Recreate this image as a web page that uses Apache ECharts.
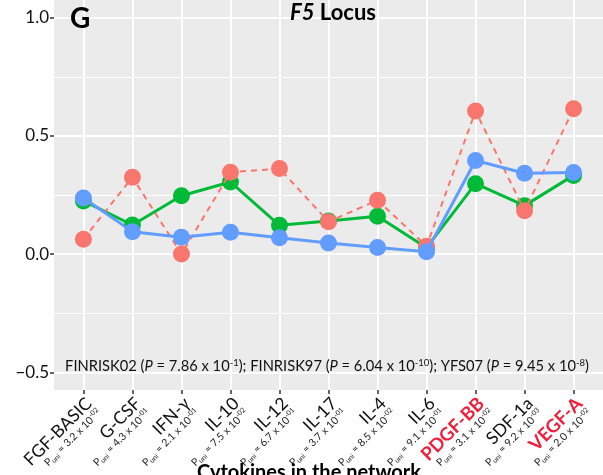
<!DOCTYPE html>
<html>
<head>
<meta charset="utf-8">
<script src="https://cdn.jsdelivr.net/npm/echarts@6/dist/echarts.min.js"></script>
<style>html,body{margin:0;padding:0;background:#fff;}#c{width:603px;height:475px;}</style>
</head>
<body>
<div id="c"></div>
<script>
const categories = ['FGF-BASIC','G-CSF','IFN-γ','IL-10','IL-12','IL-17','IL-4','IL-6','PDGF-BB','SDF-1a','VEGF-A'];
const pUniMantissa = ['3.2','4.3','2.1','7.5','6.7','3.7','8.5','9.1','3.1','9.2','2.0'];
const pUniExponent = ['-02','-01','-01','-02','-01','-01','-02','-01','-02','-03','-02'];
const highlighted = ['PDGF-BB','VEGF-A'];
const finrisk02 = [0.063, 0.325, 0.0, 0.346, 0.362, 0.137, 0.228, 0.033, 0.605, 0.183, 0.615];
const finrisk97 = [0.225, 0.123, 0.247, 0.305, 0.122, 0.140, 0.160, 0.027, 0.298, 0.205, 0.333];
const yfs07     = [0.237, 0.095, 0.071, 0.092, 0.069, 0.047, 0.028, 0.010, 0.396, 0.342, 0.345];
const yTicks = [-0.5, 0, 0.5, 1.0];
const yMin = -0.575, yMax = 1.075;

const FONT = 'Lato, "Open Sans", sans-serif';
const chart = echarts.init(document.getElementById('c'), null, {renderer: 'canvas'});

const gridTop = 0, gridBottom = 85;
const catStep = 549 / 11.2;

function labelFmt(v) {
  const i = categories.indexOf(v);
  const nameStyle = highlighted.includes(v) ? 'nr' : 'n';
  return '{' + nameStyle + '|' + v + '}\n{p|P}{s|uni}{p| = ' + pUniMantissa[i] + ' x 10}{e|' + pUniExponent[i] + '}';
}

const option = {
  animation: false,
  grid: [
    {left: 54, right: 0, top: gridTop, bottom: gridBottom, show: false, containLabel: false, outerBoundsMode: 'none'},
    {left: 54 + 0.6 * catStep, right: 603 - 54 - 10.6 * catStep, top: gridTop, bottom: gridBottom, containLabel: false, outerBoundsMode: 'none'}
  ],
  xAxis: [
    {gridIndex: 0, type: 'value', min: 0, max: 1, show: false},
    {gridIndex: 1, type: 'category', data: categories, boundaryGap: false, position: 'bottom',
     axisLine: {show: false, onZero: false},
     axisTick: {show: true, length: 4, interval: 0, lineStyle: {color: '#333', width: 1.5}},
     splitLine: {show: true, interval: 0, lineStyle: {color: '#fff', width: 2}},
     axisLabel: {
       rotate: 45, interval: 0, margin: 5, align: 'right', verticalAlign: 'top',
       formatter: labelFmt,
       rich: {
         n: {fontFamily: FONT, fontSize: 17.5, color: '#111', lineHeight: 16},
         nr: {fontFamily: FONT, fontSize: 18.5, fontWeight: 'bold', color: '#F0203C', lineHeight: 16},
         p: {fontFamily: FONT, fontSize: 10.5, color: '#222', lineHeight: 13, verticalAlign: 'middle'},
         s: {fontFamily: FONT, fontSize: 7, color: '#222', lineHeight: 13, verticalAlign: 'bottom'},
         e: {fontFamily: FONT, fontSize: 7, color: '#222', lineHeight: 13, verticalAlign: 'top'}
       }
     }
    }
  ],
  yAxis: [
    {gridIndex: 0, type: 'value', min: yMin, max: yMax, splitNumber: 3,
     axisLine: {show: false},
     axisTick: {show: true, length: 4, lineStyle: {color: '#333', width: 1.5}, customValues: yTicks},
     axisLabel: {customValues: yTicks, fontFamily: FONT, fontSize: 17, color: '#111', margin: 5,
       formatter: v => (v < 0 ? '\u2212' : '') + Math.abs(v).toFixed(1)},
     splitLine: {show: true, lineStyle: {color: '#fff', width: 2}},
     minorTick: {show: false, splitNumber: 2},
     minorSplitLine: {show: true, lineStyle: {color: '#fff', width: 1}}
    },
    {gridIndex: 1, type: 'value', min: yMin, max: yMax, show: false}
  ],
  title: [
    {text: '{bi|F5}{b| Locus}', left: 328, top: -3, textAlign: 'center',
     textStyle: {rich: {bi: {fontFamily: FONT, fontSize: 22, fontWeight: 'bold', fontStyle: 'italic', color: '#000'},
                        b: {fontFamily: FONT, fontSize: 22, fontWeight: 'bold', color: '#000'}}}}
  ],
  series: [
    {name: 'FINRISK97', type: 'line', xAxisIndex: 1, yAxisIndex: 1, data: finrisk97,
     symbol: 'circle', symbolSize: 17, itemStyle: {color: '#00BA38'},
     lineStyle: {color: '#00BA38', width: 3}, z: 2},
    {name: 'FINRISK02', type: 'line', xAxisIndex: 1, yAxisIndex: 1, data: finrisk02,
     symbol: 'circle', symbolSize: 17, itemStyle: {color: '#F8766D'},
     lineStyle: {color: '#F8766D', width: 2, type: [6, 5]}, z: 3},
    {name: 'YFS07', type: 'line', xAxisIndex: 1, yAxisIndex: 1, data: yfs07,
     symbol: 'circle', symbolSize: 17, itemStyle: {color: '#619CFF'},
     lineStyle: {color: '#619CFF', width: 3}, z: 4}
  ],
  graphic: {
    elements: [
      {type: 'rect', z: -100, zlevel: 0, silent: true, shape: {x: 54, y: 0, width: 549, height: 390}, style: {fill: '#EBEBEB'}},
      {type: 'text', left: 70, top: 5, z: 100, style: {text: 'G', font: 'bold 28px ' + FONT, fill: '#000'}},
      {type: 'text', x: 327, y: 366, z: 100, style: {
        text: '{t|FINRISK02 (}{i|P}{t| = 7.86 x 10}{u|-1}{t|); FINRISK97 (}{i|P}{t| = 6.04 x 10}{u|-10}{t|); YFS07 (}{i|P}{t| = 9.45 x 10}{u|-8}{t|)}',
        align: 'center', verticalAlign: 'middle',
        rich: {t: {font: '14.7px ' + FONT, fill: '#111', lineHeight: 17},
               i: {font: 'italic 14.7px ' + FONT, fill: '#111', lineHeight: 17},
               u: {font: '9.5px ' + FONT, fill: '#111', lineHeight: 17, verticalAlign: 'top'}}}},
      {type: 'text', x: 309, y: 473, z: 100, style: {
        text: 'Cytokines in the network', align: 'center', verticalAlign: 'middle',
        font: 'bold 20px ' + FONT, fill: '#000'}}
    ]
  }
};
chart.setOption(option);
</script>
</body>
</html>
